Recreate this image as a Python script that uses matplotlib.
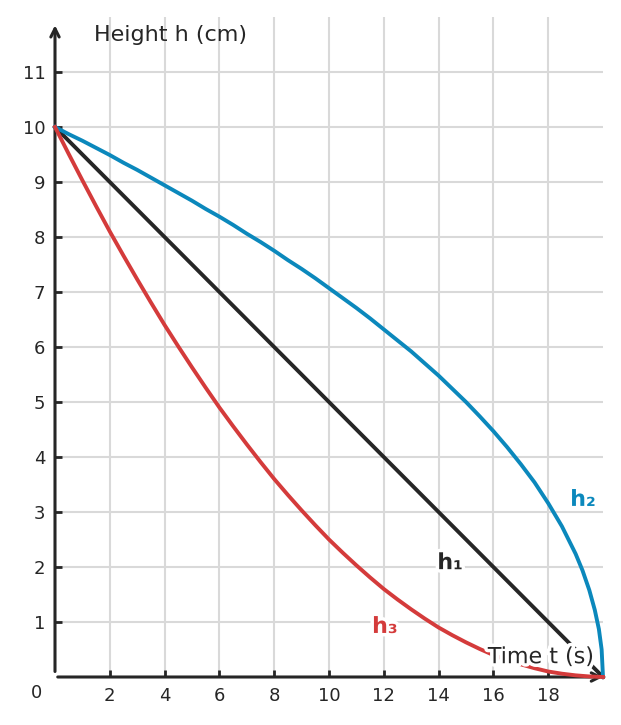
import matplotlib.pyplot as plt
import matplotlib.patheffects as pe

# values
t_lin = [0, 20]
h1 = [10, 0]

t_h2 = [0, 0.5, 1, 1.5, 2, 2.5, 3, 3.5, 4, 4.5, 5, 5.5, 6, 6.5, 7, 7.5, 8,
        8.5, 9, 9.5, 10, 10.5, 11, 11.5, 12, 12.5, 13, 13.5, 14, 14.5, 15,
        15.5, 16, 16.5, 17, 17.5, 18, 18.5, 19, 19.25, 19.5, 19.7, 19.85,
        19.95, 20]
h2 = [10, 9.87, 9.75, 9.62, 9.49, 9.35, 9.22, 9.08, 8.94, 8.80, 8.66, 8.51,
      8.37, 8.22, 8.06, 7.91, 7.75, 7.58, 7.42, 7.25, 7.07, 6.89, 6.71, 6.52,
      6.32, 6.12, 5.92, 5.70, 5.48, 5.24, 5.0, 4.74, 4.47, 4.18, 3.87, 3.54,
      3.16, 2.74, 2.24, 1.94, 1.58, 1.22, 0.87, 0.5, 0]

t_h3 = [0, 0.5, 1, 1.5, 2, 2.5, 3, 3.5, 4, 4.5, 5, 5.5, 6, 6.5, 7, 7.5, 8,
        8.5, 9, 9.5, 10, 10.5, 11, 11.5, 12, 12.5, 13, 13.5, 14, 14.5, 15,
        15.5, 16, 16.5, 17, 17.5, 18, 18.5, 19, 19.5, 20]
h3 = [10, 9.51, 9.03, 8.56, 8.1, 7.66, 7.23, 6.81, 6.4, 6.01, 5.63, 5.26,
      4.9, 4.56, 4.23, 3.91, 3.6, 3.31, 3.03, 2.76, 2.5, 2.26, 2.03, 1.81,
      1.6, 1.41, 1.23, 1.06, 0.9, 0.76, 0.63, 0.51, 0.4, 0.31, 0.23, 0.16,
      0.1, 0.06, 0.03, 0.01, 0]

x_ticks = [2, 4, 6, 8, 10, 12, 14, 16, 18]
y_ticks = [1, 2, 3, 4, 5, 6, 7, 8, 9, 10, 11]

dark = '#262626'
blue = '#0b88bc'
red = '#d43b3b'

fig = plt.figure(figsize=(6.21, 7.25), dpi=100)
ax = fig.add_axes([55 / 621, 48 / 725, 548 / 621, 660 / 725])
ax.set_xlim(0, 20)
ax.set_ylim(0, 12)

for s in ax.spines.values():
    s.set_visible(False)

ax.set_xticks(x_ticks)
ax.set_yticks(y_ticks)
ax.tick_params(direction='in', length=5, width=2, color=dark,
               labelsize=13, labelcolor=dark, pad=7)
ax.grid(True, color='#d9d9d9', lw=1.5)
ax.set_axisbelow(True)

# axes with arrow heads
ax.annotate('', xy=(20, 0), xytext=(0.1, 0),
            arrowprops=dict(arrowstyle='->,head_length=0.6,head_width=0.3',
                            lw=2.2, color=dark, shrinkA=0, shrinkB=0),
            annotation_clip=False)
ax.annotate('', xy=(0, 11.85), xytext=(0, 0.1),
            arrowprops=dict(arrowstyle='->,head_length=0.6,head_width=0.3',
                            lw=2.2, color=dark, shrinkA=0, shrinkB=0),
            annotation_clip=False)

ax.plot(t_lin, h1, color=dark, lw=2.8, clip_on=False, zorder=3)
ax.plot(t_h2, h2, color=blue, lw=2.8, clip_on=False, zorder=3)
ax.plot(t_h3, h3, color=red, lw=2.8, clip_on=False, zorder=3)

halo = [pe.withStroke(linewidth=5, foreground='white')]
ax.text(14.42, 2.07, 'h₁', color=dark, fontsize=16, fontweight='bold',
        ha='center', va='center', path_effects=halo, zorder=5)
ax.text(19.27, 3.22, 'h₂', color=blue, fontsize=16, fontweight='bold',
        ha='center', va='center', path_effects=halo, zorder=5)
ax.text(12.04, 0.91, 'h₃', color=red, fontsize=16, fontweight='bold',
        ha='center', va='center', path_effects=halo, zorder=5)

ax.text(17.74, 0.36, 'Time t (s)', color=dark, fontsize=16,
        ha='center', va='center', path_effects=halo, zorder=5)
ax.text(4.23, 11.67, 'Height h (cm)', color=dark, fontsize=16,
        ha='center', va='center', zorder=5)
ax.text(-0.66, -0.3, '0', color=dark, fontsize=13,
        ha='center', va='center', clip_on=False)

fig.savefig('out.png', dpi=100)
